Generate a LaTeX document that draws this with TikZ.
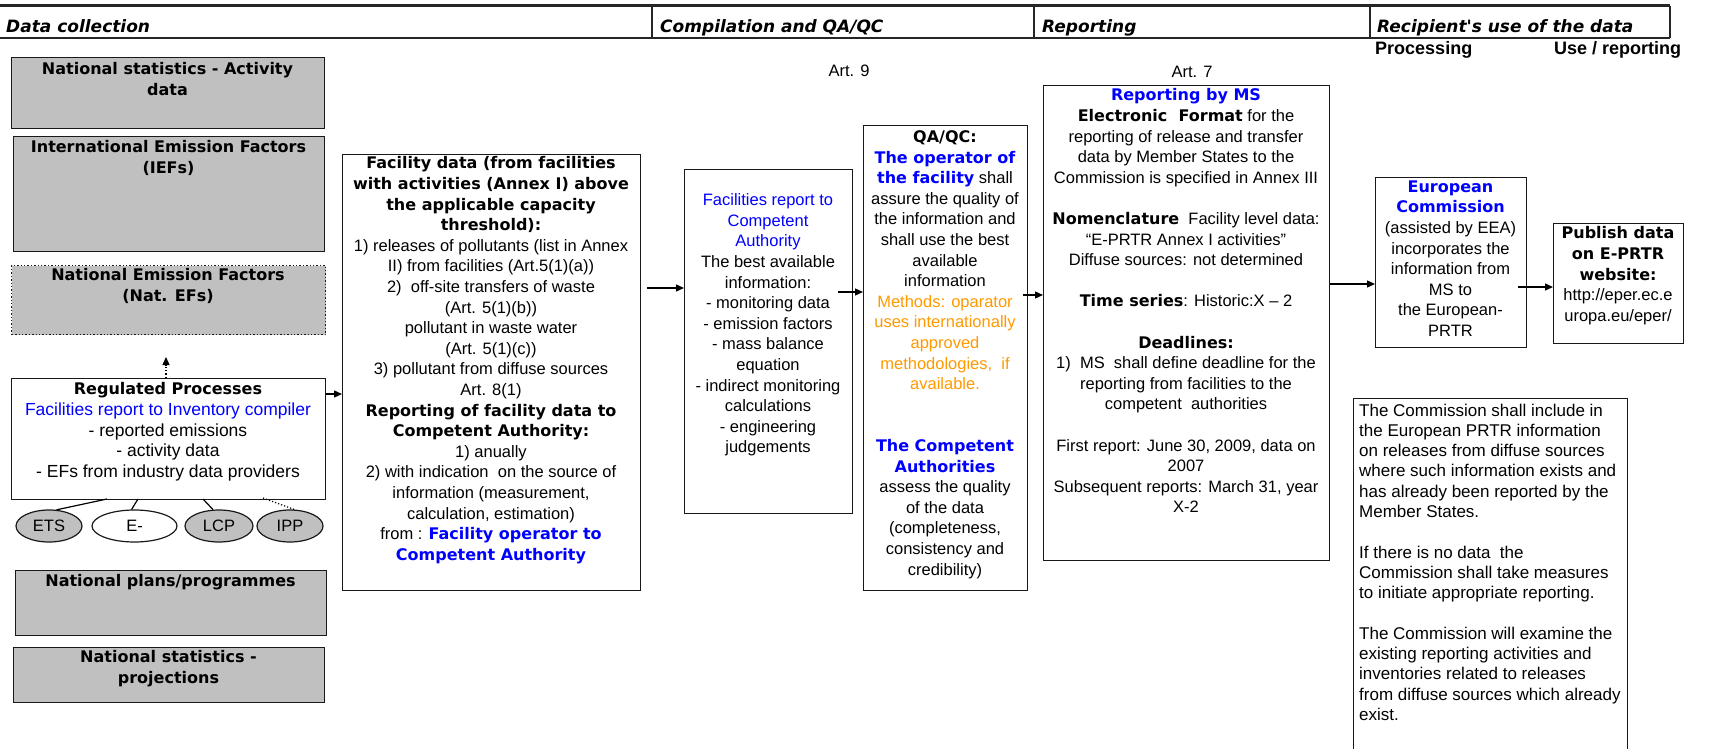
\documentclass[tikz,border=0pt]{standalone}
\usepackage{fontspec}
\setmainfont{Liberation Sans}
\newfontfamily\dejavu{DejaVu Sans}
\usetikzlibrary{arrows.meta,shapes.geometric}
\definecolor{ublue}{HTML}{0000FF}
\definecolor{uorange}{HTML}{FF9900}
\definecolor{ugray}{HTML}{C0C0C0}
\newcommand\rfont{\fontsize{16.5}{20.6}\selectfont}
\newcommand\BB[1]{{\dejavu\bfseries\fontsize{16}{20.6}\selectfont #1}}
\newcommand\BL[1]{\textcolor{ublue}{#1}}
\newcommand\OR[1]{\textcolor{uorange}{#1}}
\newcommand\HD[1]{{\dejavu\bfseries\itshape\fontsize{17}{20}\selectfont #1}}
\begin{document}
\begin{tikzpicture}[x=1pt,y=-1pt,
  box/.style={draw=black!90, line width=1.4pt, inner sep=0pt, anchor=north west},
  gbox/.style={box, fill=ugray},
  txt/.style={anchor=north, align=center, inner sep=0pt, font=\rfont},
  arr/.style={-{Triangle[length=8pt,width=7pt]}, line width=1.3pt},
  ell/.style={ellipse, draw=black!90, line width=1.2pt, inner sep=0pt, font=\rfont},
  hdr/.style={anchor=base west, inner sep=0pt}
]
\useasboundingbox (0,0) rectangle (1711,749);
% header band
\draw[line width=3pt, black!85] (0,6) -- (1670,6);
\draw[line width=2.5pt, black!85] (0,38) -- (1670,38);
\foreach \xx in {652,1034,1370,1670} \draw[line width=2pt, black!85] (\xx,6) -- (\xx,38);
\node[hdr] (h1) at (6,33) {\HD{Data collection}};
\node[hdr] (h2) at (660,33) {\HD{Compilation and QA/QC}};
\node[hdr] (h3) at (1042,33) {\HD{Reporting}};
\node[hdr] (h4) at (1377,33) {\HD{Recipient's use of the data}};
\node[hdr] (p1) at (1375,55) {\fontsize{18}{20}\selectfont\bfseries Processing};
\node[hdr] (p2) at (1554,55) {\fontsize{18}{20}\selectfont\bfseries Use / reporting};
\node[inner sep=0pt, font=\rfont] (art9) at (849,71) {Art. 9};
\node[inner sep=0pt, font=\rfont] (art7) at (1192,72) {Art. 7};

% left column
\node[gbox, minimum width=313pt, minimum height=71pt] (nsa) at (11,57) {};
\node[txt] at (167.5,62.5) {\BB{National statistics - Activity}\\\BB{data}};
\node[gbox, minimum width=311pt, minimum height=115pt] (ief) at (13,136) {};
\node[txt] at (168.5,140.5) {\BB{International Emission Factors}\\\BB{(IEFs)}};
\node[gbox, dotted, minimum width=314pt, minimum height=69pt] (nef) at (11,265) {};
\node[txt] at (168,268.5) {\BB{National Emission Factors}\\\BB{(Nat. EFs)}};
\node[box, fill=white, minimum width=314pt, minimum height=121pt] (reg) at (11,378) {};
\node[txt, font=\fontsize{17.5}{20.6}\selectfont] at (168,382.5) {\BB{Regulated Processes}\\\BL{Facilities report to Inventory compiler}\\- reported emissions\\- activity data\\- EFs from industry data providers};
\node[gbox, minimum width=311pt, minimum height=65pt] (npl) at (15,570) {};
\node[txt] at (170.5,574.5) {\BB{National plans/programmes}};
\node[gbox, minimum width=311pt, minimum height=55pt] (npr) at (13,647) {};
\node[txt] at (168.5,650.5) {\BB{National statistics -}\\\BB{projections}};

% ellipses
\node[ell, fill=ugray, minimum width=66pt, minimum height=32pt] (ets) at (49,526) {ETS};
\node[ell, fill=white, minimum width=85pt, minimum height=32pt] (eper) at (134.5,526) {E-};
\node[ell, fill=ugray, minimum width=68pt, minimum height=32pt] (lcp) at (219,526) {LCP};
\node[ell, fill=ugray, minimum width=66pt, minimum height=32pt] (ipp) at (290,526) {IPP};
\coordinate (r1) at (107,499);
\coordinate (r2) at (138,499);
\coordinate (r3) at (203,499);
\coordinate (r4) at (263,498);
\draw[line width=1.2pt] (r1) -- (ets.65);
\draw[line width=1.2pt] (r2) -- (eper.100);
\draw[line width=1.2pt] (r3) -- (lcp.110);
\draw[line width=1.2pt, dotted] (r4) -- (ipp.75);

% dotted arrow up
\coordinate (ntip) at (166,357);
\draw[arr, dotted] (reg.north -| ntip) -- (ntip);

% facility box
\node[box, minimum width=298pt, minimum height=436pt] (fac) at (342,154) {};
\node[txt] at (491,156.5) {\BB{Facility data (from facilities}\\
\BB{with activities (Annex I) above}\\
\BB{the applicable capacity}\\
\BB{threshold):}\\
1) releases of pollutants (list in Annex\\
II) from facilities (Art.5(1)(a))\\
2)\ \ off-site transfers of waste\\
(Art. 5(1)(b))\\
pollutant in waste water\\
(Art. 5(1)(c))\\
3) pollutant from diffuse sources\\
Art. 8(1)\\
\BB{Reporting of facility data to}\\
\BB{Competent Authority:}\\
1) anually\\
2) with indication\ \ on the source of\\
information (measurement,\\
calculation, estimation)\\
from : \BL{\BB{Facility operator to}}\\
\BL{\BB{Competent Authority}}};
\path (reg.north east) ++(0,16) coordinate (a1);
\draw[arr] (a1) -- (a1 -| fac.west);

% competent authority box
\node[box, minimum width=168pt, minimum height=344pt] (cab) at (684,169) {};
\node[txt] at (768,193.5) {\BL{Facilities report to}\\\BL{Competent}\\\BL{Authority}\\The best available\\information:\\- monitoring data\\- emission factors\\- mass balance\\equation\\- indirect monitoring\\calculations\\- engineering\\judgements};
\coordinate (a2) at (647,288);
\draw[arr] (a2) -- (a2 -| cab.west);

% QA/QC box
\node[box, minimum width=164pt, minimum height=465pt] (qa) at (863,125) {};
\node[txt] at (945,130.5) {\BB{QA/QC:}\\
\BL{\BB{The operator of}}\\
\BL{\BB{the facility}} shall\\
assure the quality of\\
the information and\\
shall use the best\\
available\\
information\\
\OR{Methods: oparator}\\
\OR{uses internationally}\\
\OR{approved}\\
\OR{methodologies,\ \ if}\\
\OR{available.}\\[41.2pt]
\BL{\BB{The Competent}}\\
\BL{\BB{Authorities}}\\
assess the quality\\
of the data\\
(completeness,\\
consistency and\\
credibility)};
\coordinate (a3) at (838,292);
\draw[arr] (a3) -- (a3 -| qa.west);

% reporting box
\node[box, minimum width=286pt, minimum height=475pt] (rep) at (1043,85) {};
\node[txt] at (1186,88.5) {\BL{\BB{Reporting by MS}}\\
\BB{Electronic\ \ Format} for the\\
reporting of release and transfer\\
data by Member States to the\\
Commission is specified in Annex III\\[20.6pt]
\BB{Nomenclature}\ \ Facility level data:\\
“E-PRTR Annex I activities”\\
Diffuse sources: not determined\\[20.6pt]
\BB{Time series}: Historic:X – 2\\[20.6pt]
\BB{Deadlines:}\\
1)\ \ MS\ \ shall define deadline for the\\
reporting from facilities to the\\
competent\ \ authorities\\[20.6pt]
First report: June 30, 2009, data on\\
2007\\
Subsequent reports: March 31, year\\
X-2};
\coordinate (a4) at (1023,295);
\draw[arr] (a4) -- (a4 -| rep.west);

% European Commission box
\node[box, minimum width=151pt, minimum height=170pt] (ec) at (1375,177) {};
\node[txt] at (1450.5,180.5) {\BL{\BB{European}}\\\BL{\BB{Commission}}\\(assisted by EEA)\\incorporates the\\information from\\MS to\\the European-\\PRTR};
\path (rep.north east) ++(0,199) coordinate (a5);
\draw[arr] (a5) -- (a5 -| ec.west);

% publish box
\node[box, minimum width=130pt, minimum height=120pt] (pub) at (1553,223) {};
\node[txt] at (1618,226.5) {\BB{Publish data}\\\BB{on E-PRTR}\\\BB{website:}\\http://eper.ec.e\\uropa.eu/eper/};
\coordinate (a6) at (1518,287);
\draw[arr] (a6) -- (a6 -| pub.west);

% note box
\node[box, minimum width=274pt, minimum height=380pt] (note) at (1353,398) {};
\node[txt, anchor=north west, align=left, font=\fontsize{17}{20.3}\selectfont] at (1359,403.5) {The Commission shall include in\\
the European PRTR information\\
on releases from diffuse sources\\
where such information exists and\\
has already been reported by the\\
Member States.\\[20.3pt]
If there is no data\ \ the\\
Commission shall take measures\\
to initiate appropriate reporting.\\[20.3pt]
The Commission will examine the\\
existing reporting activities and\\
inventories related to releases\\
from diffuse sources which already\\
exist.};
\end{tikzpicture}
\end{document}
